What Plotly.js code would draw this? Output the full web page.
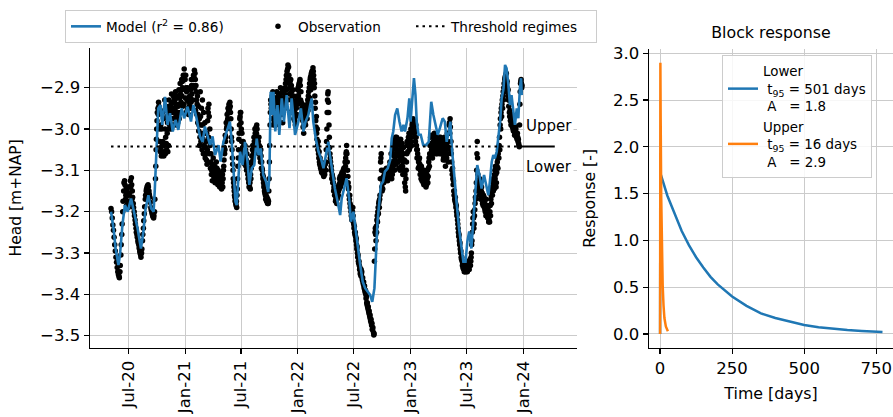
<!DOCTYPE html>
<html><head><meta charset="utf-8">
<script src="https://cdn.plot.ly/plotly-3.0.1.min.js"></script>
<style>html,body{margin:0;padding:0;background:#fff}</style>
</head><body>
<div id="chart" style="width:893px;height:417px"></div>
<script>
// Reference date: day 0 of the day-offset arrays below
const referenceDate = '2020-07-01';

// Model (time series model), day offsets and heads [m+NAP]
const modelDay = [-56,-48,-41,-32,-27,-19,-11,-2,9,20,
30,41,49,56,65,74,82,86,92,97,
104,110,119,127,135,144,153,162,173,181,
192,203,211,221,232,241,248,256,265,273,
281,292,299,308,316,324,329,335,340,347,
351,356,362,370,378,386,392,400,408,416,
422,429,437,446,453,457,461,465,470,476,
483,489,497,504,513,522,529,540,551,559,
567,574,583,589,594,599,607,616,624,632,
639,648,653,661,669,678,686,691,700,707,
715,721,729,734,743,751,759,767,775,783,
790,797,801,807,812,818,825,831,840,848,
853,858,864,871,878,885,891,896,904,910,
914,920,925,930,934,940,947,955,964,973,
977,981,988,995,1002,1009,1018,1025,1031,1038,
1043,1048,1056,1063,1071,1079,1085,1092,1098,1104,
1111,1117,1124,1130,1137,1144,1152,1160,1166,1171,
1177,1182,1187,1193,1198,1204,1209,1215,1220,1225,
1231,1236,1241,1247,1252,1258,1263,1268,1272,1274];
const modelHead = [-3.200,-3.240,-3.289,-3.329,-3.305,-3.232,-3.184,-3.200,-3.168,-3.208,
-3.240,-3.289,-3.248,-3.192,-3.160,-3.192,-3.200,-3.144,-3.047,-2.950,
-2.942,-2.990,-2.922,-2.990,-2.962,-3.006,-2.978,-3.002,-2.950,-2.974,
-2.946,-2.982,-2.942,-2.974,-3.018,-3.031,-2.994,-3.014,-3.039,-3.018,
-3.063,-3.039,-3.079,-3.031,-3.014,-2.998,-2.982,-3.031,-3.087,-3.176,
-3.184,-3.111,-3.055,-3.087,-3.031,-3.079,-3.135,-3.095,-3.087,-3.023,
-3.063,-3.047,-3.111,-3.127,-3.152,-3.111,-2.910,-2.966,-2.910,-3.006,
-2.942,-3.014,-2.926,-2.982,-2.918,-2.998,-2.926,-3.014,-2.982,-2.950,
-3.006,-2.982,-2.966,-2.942,-2.926,-2.982,-3.023,-3.055,-3.071,-3.095,
-3.063,-3.031,-3.063,-3.103,-3.144,-3.176,-3.208,-3.168,-3.144,-3.119,
-3.168,-3.224,-3.200,-3.232,-3.289,-3.329,-3.369,-3.385,-3.393,-3.401,
-3.418,-3.385,-3.321,-3.224,-3.184,-3.135,-3.127,-3.103,-3.095,-3.075,
-3.023,-3.006,-2.966,-2.950,-2.982,-3.006,-2.990,-3.006,-2.974,-2.926,
-2.982,-2.918,-2.877,-2.918,-2.982,-3.014,-3.014,-3.039,-3.039,-3.031,
-2.966,-2.934,-2.966,-2.990,-3.014,-2.998,-2.974,-2.982,-3.031,-3.006,
-2.982,-3.047,-3.127,-3.176,-3.240,-3.289,-3.321,-3.321,-3.272,-3.248,
-3.289,-3.224,-3.160,-3.087,-3.111,-3.144,-3.111,-3.144,-3.160,-3.127,
-3.079,-3.063,-3.071,-3.055,-3.023,-2.982,-2.926,-2.902,-2.845,-2.853,
-2.894,-2.942,-2.918,-2.958,-2.990,-2.950,-2.974,-2.902,-2.877,-2.918];

// Observations, day offsets and heads [m+NAP]
const obsDay = [
-56,-52,-48,-44,-40,-36,-32,-29,-26,-23,-20,-17,-14,-11,-8,-6,-5,-2,0,1,3,4,7,10,12,13,16,19,22,25,28,31,34,37,40,43,46,49,52,55,58,61,64,67,70,73,76,79,82,85,88,90,92,94,
96,99,103,106,109,112,115,118,121,124,127,130,133,136,139,140,142,145,148,150,151,154,157,160,161,163,166,169,170,172,175,178,180,181,184,187,188,190,193,196,199,200,202,205,208,210,211,214,217,218,220,223,226,229,232,
233,235,237,239,241,243,246,249,252,255,258,261,264,267,270,273,276,279,282,285,288,291,294,297,300,303,306,309,312,315,318,321,324,327,329,331,333,336,339,342,345,348,351,354,357,360,363,366,369,372,375,378,381,384,387,390,393,396,399,402,405,408,411,414,417,420,423,426,429,432,435,438,441,444,447,450,453,455,457,459,461,
463,466,469,470,472,475,478,480,481,484,487,490,493,496,499,500,502,505,508,511,514,515,517,520,523,525,526,529,532,535,538,
541,544,547,550,553,556,559,562,565,568,571,574,577,580,583,586,589,592,595,598,601,604,607,610,613,616,619,622,625,628,631,634,637,640,643,645,647,649,651,654,657,660,663,666,669,672,675,678,681,684,687,690,693,696,699,702,705,707,709,712,715,718,721,724,727,730,733,736,739,742,745,748,751,754,757,760,763,766,769,772,775,778,781,784,787,790,795,797,800,802,805,808,811,814,817,819,822,825,828,831,834,837,840,843,846,
849,851,853,856,859,862,865,868,871,874,877,880,883,886,889,892,895,898,901,904,907,910,913,916,919,922,925,928,931,934,937,940,943,946,949,952,955,958,961,964,967,970,973,976,979,982,985,988,991,994,997,1000,1003,1006,1009,1012,1015,1018,1021,1024,1027,1030,1033,1036,1039,1042,1045,1048,1051,1054,1057,1060,1063,1066,1069,1072,1075,1078,1081,1084,1087,1090,1093,1096,1099,1102,1105,1108,1111,1114,1117,1120,1123,1126,1129,1130,1132,1135,1138,1141,1144,1147,1150,1153,1156,1159,1162,1165,
1168,1171,1174,1177,1180,1183,1186,1189,1192,1195,1198,1201,1204,1207,1210,1213,1216,1219,1222,1225,1228,1231,1234,1237,1240,1243,1246,1249,1252,1255,1258,1261,1264,1266,1268,1270,1272,1274];
const obsHead = [
-3.192,-3.215,-3.245,-3.280,-3.310,-3.335,-3.352,-3.360,-3.330,-3.280,-3.230,-3.175,-3.130,-3.135,-3.160,-3.185,-3.150,-3.175,-3.190,-3.140,-3.175,-3.155,-3.125,-3.118,-3.170,-3.150,-3.180,-3.200,-3.220,-3.240,-3.255,-3.270,-3.280,-3.295,-3.305,-3.300,-3.270,-3.240,-3.205,-3.170,-3.150,-3.140,-3.135,-3.150,-3.165,-3.190,-3.200,-3.210,-3.215,-3.200,-3.120,-3.050,-3.000,-2.960,
-2.950,-2.945,-2.955,-3.045,-3.060,-3.030,-3.065,-2.930,-3.020,-3.050,-2.985,-3.040,-2.960,-2.975,-2.940,-2.915,-2.990,-2.960,-2.950,-2.975,-2.930,-2.970,-2.945,-2.985,-2.925,-2.960,-2.940,-2.915,-2.960,-2.905,-2.885,-2.870,-2.940,-2.855,-2.880,-2.900,-2.960,-2.930,-2.950,-2.935,-2.920,-2.950,-2.905,-2.895,-2.880,-2.930,-2.870,-2.858,-2.880,-2.955,-2.910,-2.940,-2.965,-2.990,-3.020,
-2.910,-3.030,-2.950,-3.050,-2.990,-3.060,-3.040,-3.070,-3.030,-3.085,-2.950,-2.940,-3.000,-3.080,-3.100,-3.110,-3.090,-3.120,-3.105,-3.080,-3.125,-3.100,-3.130,-3.115,-3.135,-3.120,-3.140,-3.090,-3.060,-3.030,-3.000,-2.980,-2.960,-2.945,-2.935,-2.960,-3.000,-3.050,-3.100,-3.140,-3.165,-3.180,-3.190,-3.120,-3.050,-2.990,-2.960,-3.000,-3.060,-3.030,-3.070,-3.040,-3.090,-3.060,-3.110,-3.130,-3.140,-3.110,-3.080,-3.050,-3.060,-3.030,-3.010,-2.995,-3.000,-3.040,-3.020,-3.070,-3.050,-3.080,-3.110,-3.130,-3.150,-3.160,-3.165,-3.175,-3.180,-3.150,-3.080,-2.990,-2.930,
-2.950,-2.920,-2.960,-2.990,-2.930,-2.970,-2.940,-2.985,-2.910,-2.950,-2.980,-2.930,-2.900,-2.940,-2.910,-2.985,-2.960,-2.930,-2.900,-2.880,-2.860,-2.930,-2.845,-2.870,-2.900,-2.960,-2.880,-2.910,-2.940,-2.920,-2.960,
-2.990,-2.950,-2.920,-2.900,-2.890,-2.880,-2.910,-2.950,-2.980,-3.010,-2.970,-2.990,-2.960,-2.940,-2.920,-2.900,-2.880,-2.870,-2.860,-2.852,-2.880,-2.920,-2.980,-3.010,-3.040,-3.060,-3.080,-3.090,-3.100,-3.095,-3.110,-3.090,-3.100,-3.080,-3.000,-2.930,-2.910,-2.960,-3.020,-3.070,-3.090,-3.110,-3.120,-3.140,-3.150,-3.170,-3.180,-3.165,-3.150,-3.120,-3.140,-3.110,-3.130,-3.100,-3.120,-3.080,-3.060,-3.040,-3.080,-3.130,-3.160,-3.180,-3.200,-3.220,-3.190,-3.230,-3.250,-3.260,-3.280,-3.300,-3.320,-3.330,-3.350,-3.340,-3.360,-3.370,-3.380,-3.390,-3.400,-3.420,-3.430,-3.440,-3.450,-3.460,-3.470,-3.485,-3.498,-3.320,-3.240,-3.270,-3.220,-3.200,-3.180,-3.170,-3.080,-3.060,-3.150,-3.130,-3.100,-3.110,-3.120,-3.105,-3.125,-3.110,-3.090,
-3.100,-3.060,-3.120,-3.080,-3.040,-3.100,-3.020,-3.060,-3.030,-3.080,-3.050,-3.100,-3.040,-3.070,-3.110,-3.060,-3.130,-3.150,-3.080,-3.040,-3.020,-3.050,-3.010,-3.030,-2.990,-2.975,-3.000,-3.020,-2.990,-3.050,-3.060,-3.080,-3.070,-3.100,-3.090,-3.110,-3.130,-3.100,-3.120,-3.140,-3.110,-3.130,-3.080,-3.060,-3.020,-3.050,-3.070,-3.030,-3.010,-3.050,-3.030,-3.060,-3.040,-3.020,-3.050,-3.030,-3.060,-3.040,-3.070,-3.020,-3.090,-3.050,-3.010,-3.080,-2.990,-2.975,-3.030,-3.100,-3.120,-3.150,-3.170,-3.180,-3.200,-3.220,-3.250,-3.270,-3.290,-3.310,-3.320,-3.335,-3.340,-3.345,-3.330,-3.340,-3.325,-3.335,-3.320,-3.330,-3.300,-3.250,-3.200,-3.230,-3.180,-3.150,-3.060,-3.030,-3.110,-3.150,-3.120,-3.170,-3.140,-3.180,-3.160,-3.190,-3.200,-3.170,-3.210,-3.190,
-3.220,-3.200,-3.170,-3.150,-3.120,-3.140,-3.110,-3.090,-3.130,-3.080,-3.060,-3.040,-2.990,-2.960,-2.940,-2.920,-2.900,-2.880,-2.870,-2.890,-2.910,-2.930,-2.960,-2.980,-2.970,-2.990,-3.000,-2.990,-3.010,-3.000,-3.015,-3.020,-3.035,-3.043,-2.940,-2.890,-2.880,-2.900];

// Further observations read in between, as [day offset, head]
const obsMore = [
[-54,-3.200],[-50,-3.232],[-46,-3.262],[-42,-3.295],[-38,-3.322],[-34,-3.345],[-30,-3.356],[-27,-3.345],[-24,-3.305],[-21,-3.255],[-18,-3.200],[-15,-3.150],[-12,-3.125],[-9,-3.170],[-7,-3.140],[-3,-3.160],[-1,-3.180],[2,-3.160],[5,-3.140],[8,-3.140],[9,-3.180],[11,-3.135],[14,-3.165],[17,-3.190],[20,-3.210],[23,-3.230],[26,-3.250],[29,-3.262],[32,-3.275],[35,-3.288],[38,-3.300],[41,-3.310],[44,-3.290],[47,-3.255],[50,-3.222],[53,-3.188],[56,-3.160],[59,-3.145],[62,-3.138],[65,-3.140],[68,-3.158],[71,-3.178],[74,-3.195],[77,-3.205],[80,-3.212],[83,-3.210],[86,-3.170],[89,-3.090],[91,-3.025],[93,-2.980],
[97,-2.965],[98,-2.935],[100,-2.960],[101,-3.000],[102,-3.030],[104,-3.055],[105,-2.990],[107,-3.065],[108,-3.000],[110,-3.040],[111,-2.960],[113,-3.055],[114,-2.975],[116,-3.040],[117,-2.955],[119,-3.000],[120,-3.060],[122,-2.945],[123,-3.035],[125,-2.970],[126,-3.010],[128,-3.055],[129,-2.950],[131,-3.000],[132,-2.930],[134,-2.990],[135,-2.945],[137,-2.955],[138,-3.000],[141,-2.960],[143,-2.935],[144,-2.975],[146,-2.920],[147,-2.990],[149,-2.925],[152,-2.955],[153,-2.910],[155,-2.940],[156,-2.990],[158,-2.920],[159,-2.965],[162,-2.945],[164,-2.905],[165,-2.975],[167,-2.925],[168,-2.890],[171,-2.935],[173,-2.880],[174,-2.920],[176,-2.900],[177,-2.945],[179,-2.880],[182,-2.870],[183,-2.905],[185,-2.925],[186,-2.870],[189,-2.910],[191,-2.955],[192,-2.900],[194,-2.925],[195,-2.965],[197,-2.905],[198,-2.945],[201,-2.925],[203,-2.935],[204,-2.880],[206,-2.915],[207,-2.950],[209,-2.900],[212,-2.895],[213,-2.875],[215,-2.900],[216,-2.865],[219,-2.895],[221,-2.930],[222,-2.965],[224,-2.920],[225,-2.985],[227,-2.945],[228,-3.005],[230,-2.975],[231,-3.040],
[234,-2.970],[236,-2.990],[238,-3.010],[240,-2.930],[242,-3.025],[244,-2.960],[245,-3.060],[247,-3.010],[248,-2.985],[250,-3.045],[251,-3.060],[253,-3.075],[254,-3.010],[256,-3.050],[257,-2.980],[259,-2.960],[260,-3.020],[262,-2.970],[263,-3.060],[265,-3.040],[266,-3.095],[268,-3.060],[269,-3.110],[271,-3.085],[272,-3.125],[274,-3.095],[275,-3.070],[277,-3.115],[278,-3.100],[280,-3.090],[281,-3.130],[283,-3.095],[284,-3.120],[286,-3.110],[287,-3.095],[289,-3.115],[290,-3.135],[292,-3.120],[293,-3.105],[295,-3.120],[296,-3.140],[298,-3.130],[299,-3.110],[301,-3.125],[302,-3.145],[304,-3.130],[305,-3.110],[307,-3.120],[308,-3.100],[310,-3.075],[311,-3.045],[313,-3.050],[314,-3.015],[316,-3.020],[317,-2.985],[319,-2.995],[320,-2.965],[322,-2.975],[323,-2.950],[325,-2.955],[326,-2.940],[328,-2.950],[330,-2.945],[332,-2.975],[334,-3.020],[335,-3.030],[337,-3.070],[338,-3.085],[340,-3.120],[341,-3.130],[343,-3.150],[344,-3.160],[346,-3.175],[347,-3.172],[349,-3.185],[350,-3.175],[352,-3.160],[353,-3.145],[355,-3.090],[356,-3.070],[358,-3.025],[359,-3.010],[361,-2.975],[362,-2.970],[364,-2.960],[365,-2.985],[367,-3.030],[368,-3.010],[370,-3.045],[371,-3.070],[373,-3.055],[374,-3.040],[376,-3.055],[377,-3.085],[379,-3.065],[380,-3.050],[382,-3.075],[383,-3.100],[385,-3.085],[386,-3.095],[388,-3.120],[389,-3.100],[391,-3.140],[392,-3.125],[394,-3.130],[395,-3.145],[397,-3.120],[398,-3.095],[400,-3.065],[401,-3.085],[403,-3.040],[404,-3.075],[406,-3.045],[407,-3.020],[409,-3.045],[410,-3.000],[412,-3.020],[413,-3.040],[415,-3.010],[416,-2.990],[418,-3.025],[419,-3.055],[421,-3.030],[422,-3.060],[424,-3.040],[425,-3.055],[427,-3.060],[428,-3.080],[430,-3.065],[431,-3.095],[433,-3.095],[434,-3.100],[436,-3.120],[437,-3.115],[439,-3.140],[440,-3.135],[442,-3.155],[443,-3.150],[445,-3.170],[446,-3.160],[448,-3.175],[449,-3.165],[451,-3.180],[452,-3.170],[454,-3.175],[456,-3.120],[458,-3.040],[460,-2.960],
[462,-2.940],[464,-2.975],[465,-2.935],[467,-2.945],[468,-2.910],[471,-2.960],[473,-2.985],[474,-2.945],[476,-2.925],[477,-2.990],[479,-2.960],[482,-2.935],[483,-2.975],[485,-2.920],[486,-2.960],[488,-2.945],[489,-2.915],[491,-2.960],[492,-2.915],[494,-2.925],[495,-2.965],[497,-2.925],[498,-2.955],[501,-2.935],[503,-2.910],[504,-2.945],[506,-2.915],[507,-2.950],[509,-2.890],[510,-2.925],[512,-2.870],[513,-2.905],[516,-2.855],[518,-2.880],[519,-2.850],[521,-2.890],[522,-2.915],[524,-2.885],[527,-2.930],[528,-2.895],[530,-2.925],[531,-2.955],[533,-2.905],[534,-2.945],[536,-2.975],[537,-2.935],[539,-2.980],[540,-2.945],
[542,-2.970],[543,-2.935],[545,-2.930],[546,-2.965],[548,-2.905],[549,-2.940],[551,-2.920],[552,-2.895],[554,-2.910],[555,-2.885],[557,-2.895],[558,-2.930],[560,-2.935],[561,-2.965],[563,-2.970],[564,-2.940],[566,-2.995],[567,-2.960],[569,-2.990],[570,-2.955],[572,-2.985],[573,-2.960],[575,-2.975],[576,-2.950],[578,-2.945],[579,-2.975],[581,-2.930],[582,-2.955],[584,-2.910],[585,-2.940],[587,-2.890],[588,-2.925],[590,-2.875],[591,-2.905],[593,-2.865],[594,-2.895],[596,-2.860],[597,-2.880],[599,-2.860],[600,-2.870],[602,-2.900],[603,-2.890],[605,-2.950],[606,-2.935],[608,-2.995],[609,-2.970],[611,-3.025],[612,-3.000],[614,-3.050],[615,-3.030],[617,-3.070],[618,-3.055],[620,-3.085],[621,-3.070],[623,-3.095],[624,-3.080],[626,-3.105],[627,-3.085],[629,-3.105],[630,-3.090],[632,-3.100],[633,-3.115],[635,-3.095],[636,-3.110],[638,-3.085],[639,-3.100],[641,-3.050],[642,-3.030],[644,-2.960],[646,-2.915],[648,-2.935],[650,-2.990],[652,-3.045],[653,-3.060],[655,-3.080],[656,-3.100],[658,-3.100],[659,-3.120],[661,-3.115],[662,-3.130],[664,-3.130],[665,-3.150],[667,-3.145],[668,-3.160],[670,-3.160],[671,-3.175],[673,-3.175],[674,-3.165],[676,-3.170],[677,-3.155],[679,-3.140],[680,-3.160],[682,-3.135],[683,-3.145],[685,-3.130],[686,-3.115],[688,-3.125],[689,-3.135],[691,-3.120],[692,-3.105],[694,-3.115],[695,-3.125],[697,-3.110],[698,-3.095],[700,-3.100],[701,-3.125],[703,-3.090],[704,-3.070],[706,-3.055],[708,-3.060],[710,-3.100],[711,-3.115],[713,-3.145],[714,-3.140],[716,-3.170],[717,-3.160],[719,-3.190],[720,-3.185],[722,-3.210],[723,-3.200],[725,-3.215],[726,-3.200],[728,-3.210],[729,-3.225],[731,-3.240],[732,-3.235],[734,-3.255],[735,-3.250],[737,-3.270],[738,-3.265],[740,-3.290],[741,-3.285],[743,-3.310],[744,-3.305],[746,-3.325],[747,-3.320],[749,-3.340],[750,-3.335],[752,-3.345],[753,-3.355],[755,-3.350],[756,-3.345],[758,-3.365],[759,-3.360],[761,-3.375],[762,-3.370],[764,-3.385],[765,-3.380],[767,-3.395],[768,-3.390],[770,-3.410],[771,-3.405],[773,-3.425],[774,-3.420],[776,-3.435],[777,-3.430],[779,-3.445],[780,-3.440],[782,-3.455],[783,-3.450],[785,-3.465],[786,-3.460],[788,-3.475],[789,-3.470],[791,-3.485],[792,-3.480],[794,-3.492],[796,-3.495],[798,-3.290],[799,-3.250],[801,-3.255],[803,-3.235],[804,-3.250],[806,-3.210],[807,-3.225],[809,-3.190],[810,-3.205],[812,-3.175],[813,-3.190],[815,-3.160],[816,-3.120],[818,-3.070],[820,-3.100],[821,-3.140],[823,-3.120],[824,-3.145],[826,-3.115],[827,-3.130],[829,-3.105],[830,-3.120],[832,-3.100],[833,-3.125],[835,-3.110],[836,-3.095],[838,-3.120],[839,-3.100],[841,-3.115],[842,-3.100],[844,-3.095],[845,-3.115],[847,-3.080],[848,-3.105],
[850,-3.080],[852,-3.095],[854,-3.060],[855,-3.110],[857,-3.050],[858,-3.090],[860,-3.065],[861,-3.030],[863,-3.075],[864,-3.045],[866,-3.045],[867,-3.085],[869,-3.020],[870,-3.050],[872,-3.065],[873,-3.035],[875,-3.060],[876,-3.095],[878,-3.035],[879,-3.075],[881,-3.060],[882,-3.025],[884,-3.090],[885,-3.055],[887,-3.035],[888,-3.090],[890,-3.080],[891,-3.045],[893,-3.100],[894,-3.075],[896,-3.110],[897,-3.140],[899,-3.120],[900,-3.100],[902,-3.060],[903,-3.030],[905,-3.055],[906,-3.035],[908,-3.040],[909,-3.010],[911,-3.030],[912,-3.045],[914,-3.020],[915,-3.000],[917,-3.010],[918,-3.040],[920,-2.985],[921,-3.005],[923,-2.980],[924,-2.990],[926,-3.010],[927,-2.985],[929,-3.005],[930,-3.030],[932,-3.020],[933,-3.040],[935,-3.070],[936,-3.050],[938,-3.070],[939,-3.095],[941,-3.075],[942,-3.090],[944,-3.085],[945,-3.110],[947,-3.095],[948,-3.120],[950,-3.100],[951,-3.125],[953,-3.120],[954,-3.100],[956,-3.115],[957,-3.135],[959,-3.110],[960,-3.130],[962,-3.125],[963,-3.105],[965,-3.125],[966,-3.135],[968,-3.120],[969,-3.100],[971,-3.115],[972,-3.095],[974,-3.070],[975,-3.090],[977,-3.040],[978,-3.065],[980,-3.035],[981,-3.015],[983,-3.060],[984,-3.035],[986,-3.045],[987,-3.060],[989,-3.020],[990,-3.045],[992,-3.030],[993,-3.015],[995,-3.040],[996,-3.060],[998,-3.045],[999,-3.020],[1001,-3.050],[1002,-3.030],[1004,-3.055],[1005,-3.030],[1007,-3.040],[1008,-3.060],[1010,-3.040],[1011,-3.020],[1013,-3.045],[1014,-3.060],[1016,-3.050],[1017,-3.030],[1019,-3.055],[1020,-3.075],[1022,-3.045],[1023,-3.030],[1025,-3.060],[1026,-3.075],[1028,-3.060],[1029,-3.030],[1031,-3.070],[1032,-3.040],[1034,-3.030],[1035,-3.060],[1037,-3.045],[1038,-3.010],[1040,-2.985],[1041,-3.010],[1043,-2.995],[1044,-3.050],[1046,-3.060],[1047,-3.080],[1049,-3.110],[1050,-3.095],[1052,-3.135],[1053,-3.125],[1055,-3.160],[1056,-3.150],[1058,-3.175],[1059,-3.165],[1061,-3.190],[1062,-3.185],[1064,-3.210],[1065,-3.205],[1067,-3.230],[1068,-3.240],[1070,-3.260],[1071,-3.255],[1073,-3.280],[1074,-3.275],[1076,-3.300],[1077,-3.295],[1079,-3.315],[1080,-3.310],[1082,-3.330],[1083,-3.325],[1085,-3.338],[1086,-3.330],[1088,-3.345],[1089,-3.335],[1091,-3.340],[1092,-3.325],[1094,-3.345],[1095,-3.335],[1097,-3.330],[1098,-3.345],[1100,-3.335],[1101,-3.320],[1103,-3.325],[1104,-3.340],[1106,-3.330],[1107,-3.315],[1109,-3.320],[1110,-3.310],[1112,-3.280],[1113,-3.270],[1115,-3.230],[1116,-3.215],[1118,-3.215],[1119,-3.240],[1121,-3.210],[1122,-3.195],[1124,-3.165],[1125,-3.170],[1127,-3.130],[1128,-3.100],[1131,-3.070],[1133,-3.130],[1134,-3.140],[1136,-3.135],[1137,-3.160],[1139,-3.145],[1140,-3.130],[1142,-3.160],[1143,-3.150],[1145,-3.165],[1146,-3.155],[1148,-3.170],[1149,-3.185],[1151,-3.175],[1152,-3.165],[1154,-3.180],[1155,-3.195],[1157,-3.185],[1158,-3.210],[1160,-3.190],[1161,-3.200],[1163,-3.185],[1164,-3.215],[1166,-3.205],[1167,-3.225],
[1169,-3.210],[1170,-3.225],[1172,-3.185],[1173,-3.210],[1175,-3.160],[1176,-3.180],[1178,-3.140],[1179,-3.160],[1181,-3.130],[1182,-3.150],[1184,-3.125],[1185,-3.145],[1187,-3.100],[1188,-3.120],[1190,-3.110],[1191,-3.140],[1193,-3.105],[1194,-3.090],[1196,-3.070],[1197,-3.095],[1199,-3.050],[1200,-3.070],[1202,-3.020],[1203,-3.050],[1205,-2.975],[1206,-3.000],[1208,-2.950],[1209,-2.970],[1211,-2.930],[1212,-2.950],[1214,-2.910],[1215,-2.930],[1217,-2.890],[1218,-2.910],[1220,-2.875],[1221,-2.895],[1223,-2.880],[1224,-2.865],[1226,-2.900],[1227,-2.885],[1229,-2.920],[1230,-2.905],[1232,-2.945],[1233,-2.930],[1235,-2.970],[1236,-2.955],[1238,-2.975],[1239,-2.990],[1241,-2.980],[1242,-2.965],[1244,-2.995],[1245,-2.985],[1247,-3.005],[1248,-2.995],[1250,-3.000],[1251,-3.015],[1253,-3.005],[1254,-2.995],[1256,-3.010],[1257,-3.020],[1259,-3.025],[1260,-3.010],[1262,-3.030],[1263,-3.025],[1265,-3.040],[1267,-2.990],[1269,-2.910],[1271,-2.885],[1273,-2.890],[1275,-2.895]
];

// Threshold between the two regimes
const thresholdHead = -3.042;
const thresholdDay = [-56, 1268];
const regimeLabels = ['Upper', 'Lower'];

// Axis ticks
const xTickDates = ['2020-07-01','2021-01-01','2021-07-01','2022-01-01','2022-07-01','2023-01-01','2023-07-01','2024-01-01'];
const yTickHead = [-3.5,-3.4,-3.3,-3.2,-3.1,-3.0,-2.9];

// Block responses
const lowerDay = [0,1,25,50,75,100,125,150,175,200,225,250,300,350,400,450,500,550,600,650,700,750,772];
const lowerResponse = [0,1.72,1.48,1.28,1.10,0.95,0.82,0.71,0.61,0.53,0.46,0.40,0.30,0.22,0.17,0.13,0.096,0.072,0.054,0.041,0.031,0.023,0.020];
const upperDay = [0,1,2,4,6,9,12,15,20,25,27];
const upperResponse = [0,2.90,2.30,1.45,0.95,0.52,0.30,0.17,0.08,0.04,0.03];
const responseTicks = [0,0.5,1,1.5,2,2.5,3];
const timeTicks = [0,250,500,750];

const NB = '\u00a0';
function dayToDate(d){
  const base = Date.parse(referenceDate + 'T00:00:00Z');
  return new Date(base + d*86400000).toISOString().slice(0,10);
}

const allObsDay = obsDay.concat(obsMore.map(p => p[0]));
const allObsHead = obsHead.concat(obsMore.map(p => p[1]));

const FONT = 'DejaVu Sans';
const BLUE = '#1f77b4', ORANGE = '#ff7f0e';
const GRID = '#cbcbcb';

const traces = [
  {type:'scatter', mode:'markers', name:'Observation', x: allObsDay.map(dayToDate), y: allObsHead,
   marker:{color:'#000', size:5.5}, xaxis:'x', yaxis:'y', legend:'legend', legendrank:2, legendwidth:108},
  {type:'scatter', mode:'lines', name:'Model (r<sup>2</sup> = 0.86)', x: modelDay.map(dayToDate), y: modelHead,
   line:{color:BLUE, width:2.6}, xaxis:'x', yaxis:'y', legend:'legend', legendrank:1, legendwidth:147},
  {type:'scatter', mode:'lines', name:'Threshold regimes', x: thresholdDay.map(dayToDate), y: [thresholdHead, thresholdHead],
   line:{color:'#000', width:2, dash:'2.5px,4px'}, xaxis:'x', yaxis:'y', legend:'legend', legendrank:3, legendwidth:140},
  {type:'scatter', mode:'lines', name:'Lower<br>'+NB+'t<sub>95</sub> = 501 days<br>'+NB+'A'+NB+NB+NB+'= 1.8',
   x: lowerDay, y: lowerResponse, line:{color:BLUE, width:2.5}, xaxis:'x2', yaxis:'y2', legend:'legend2', legendrank:1},
  {type:'scatter', mode:'lines', name:'Upper<br>'+NB+'t<sub>95</sub> = 16 days<br>'+NB+'A'+NB+NB+NB+'= 2.9',
   x: upperDay, y: upperResponse, line:{color:ORANGE, width:2.5}, xaxis:'x2', yaxis:'y2', legend:'legend2', legendrank:2}
];

const axisCommon = {
  showline:true, linecolor:'#000', linewidth:1.5, mirror:false,
  ticks:'outside', ticklen:5, tickwidth:1.2, tickcolor:'#000',
  showgrid:true, gridcolor:GRID, gridwidth:1, zeroline:false, automargin:false,
  tickfont:{family:FONT, size:16.5, color:'#000'}
};

const layout = {
  width:893, height:417,
  margin:{l:0, r:0, t:0, b:0},
  paper_bgcolor:'#fff', plot_bgcolor:'#fff',
  font:{family:FONT, size:16, color:'#000'},
  showlegend:true,
  title:{text:'Block response', x:771/893, xanchor:'center', y:1-32/417, yanchor:'middle',
         font:{family:FONT, size:15.8, color:'#000'}},
  xaxis: Object.assign({}, axisCommon, {
    type:'date', domain:[90/893, 577/893], anchor:'y',
    range:[dayToDate(-124), dayToDate(1453)],
    tickmode:'array', tickvals:xTickDates, tickformat:'%b-%y', tickangle:-90
  }),
  yaxis: Object.assign({}, axisCommon, {
    domain:[69.3/417, 369/417], anchor:'x', range:[-3.529, -2.804],
    tickmode:'array', tickvals:yTickHead, tickformat:'.1f',
    title:{text:'Head [m+NAP]', font:{family:FONT, size:15.5}, standoff:14}
  }),
  xaxis2: Object.assign({}, axisCommon, {
    domain:[649/893, 1], anchor:'y2', range:[-38.5, 808.5],
    tickmode:'array', tickvals:timeTicks,
    title:{text:'Time [days]', font:{family:FONT, size:15.8}, standoff:11}
  }),
  yaxis2: Object.assign({}, axisCommon, {
    domain:[69.5/417, 367.9/417], anchor:'x2', range:[-0.145, 3.045],
    tickmode:'array', tickvals:responseTicks, tickformat:'.1f',
    title:{text:'Response [-]', font:{family:FONT, size:15.8}, standoff:13}
  }),
  legend:{orientation:'h', x:65/893, y:1-10/417, xanchor:'left', yanchor:'top',
          bgcolor:'rgba(255,255,255,0.85)', bordercolor:'#cccccc', borderwidth:1,
          font:{family:FONT, size:13.6, color:'#000'}},
  legend2:{x:722/893, y:1-55/417, xanchor:'left', yanchor:'top',
          bgcolor:'rgba(255,255,255,0.85)', bordercolor:'#cccccc', borderwidth:1,
          font:{family:FONT, size:13.4, color:'#000'}},
  shapes:[
    {type:'line', xref:'x', yref:'y', x0:dayToDate(1268), x1:dayToDate(1381), y0:thresholdHead, y1:thresholdHead,
     line:{color:'#000', width:2}}
  ],
  annotations:[
    {xref:'x', yref:'y', x:dayToDate(1282), y:-2.993, text:regimeLabels[0], showarrow:false, xanchor:'left', yanchor:'middle',
     bgcolor:'#fff', borderpad:1, font:{family:FONT, size:15, color:'#000'}},
    {xref:'x', yref:'y', x:dayToDate(1282), y:-3.091, text:regimeLabels[1], showarrow:false, xanchor:'left', yanchor:'middle',
     bgcolor:'#fff', borderpad:1, font:{family:FONT, size:15, color:'#000'}}
  ]
};

Plotly.newPlot('chart', traces, layout, {displayModeBar:false, staticPlot:true});
</script>
</body></html>
